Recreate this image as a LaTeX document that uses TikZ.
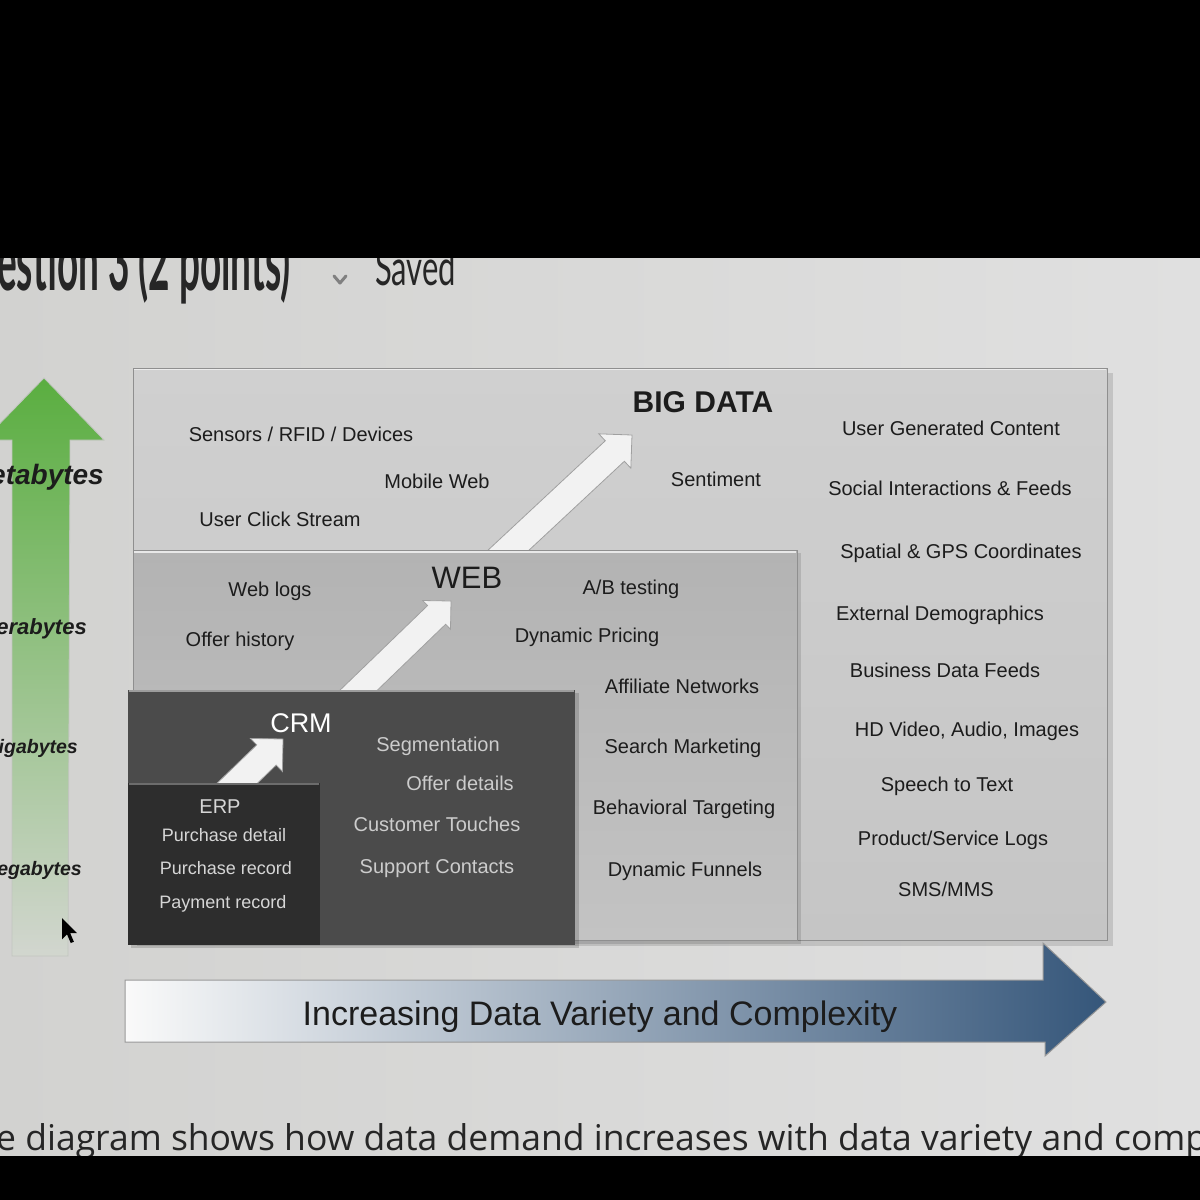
\documentclass[tikz,border=0pt]{standalone}
\usepackage{fontspec}
\setmainfont{Liberation Sans}
\newfontfamily\latofont{Lato}
\newfontfamily\opensansfont{Open Sans}
\definecolor{screenL}{HTML}{D2D2D0}
\definecolor{screenR}{HTML}{E0E0E0}
\definecolor{bigtop}{HTML}{D0D0D0}
\definecolor{bigbot}{HTML}{C5C5C5}
\definecolor{webtop}{HTML}{B3B3B3}
\definecolor{webbot}{HTML}{C3C3C3}
\definecolor{crmfill}{HTML}{4B4B4B}
\definecolor{erpfill}{HTML}{2D2D2D}
\definecolor{edgegray}{HTML}{8F8F8F}
\definecolor{darktext}{HTML}{1C1C1C}
\definecolor{crmtext}{HTML}{CCCCCC}
\definecolor{erptext}{HTML}{D6D6D6}
\definecolor{greenA}{HTML}{5AAE40}
\definecolor{greenB}{HTML}{86C06E}
\definecolor{greenC}{HTML}{D2D6CF}
\definecolor{steel}{HTML}{35567A}
\definecolor{steelmid}{HTML}{C3CCD4}
\definecolor{arrowedge}{HTML}{A0A0A0}
\definecolor{arrowfill}{HTML}{F2F2F2}
\definecolor{screentext}{HTML}{262626}
\begin{document}
\begin{tikzpicture}[x=1pt,y=-1pt,
  lbl/.style={font=\fontsize{20}{22}\selectfont, text=darktext, inner sep=0pt, text height=14.3pt, text depth=0pt},
  crmlbl/.style={lbl, text=crmtext},
  erplbl/.style={lbl, text=erptext, font=\fontsize{18}{20}\selectfont, text height=12.9pt},
  sizelbl/.style={font=\bfseries\itshape\fontsize{20}{22}\selectfont, text=darktext, inner sep=0pt, anchor=east, text height=14pt, text depth=0pt},
  arrowbody/.style={draw=arrowedge, line width=0.8pt, fill=arrowfill, line join=miter},
  pics/blockarr/.style args={#1/#2/#3/#4}{code={
    \path[arrowbody] (0,0) -- (-#4,#2/2) -- (-#4,#3/2) -- (-#1,#3/2) -- (-#1,-#3/2) -- (-#4,-#3/2) -- (-#4,-#2/2) -- cycle;}}
]
\useasboundingbox (0,0) rectangle (1200,1200);
\clip (0,0) rectangle (1200,1200);

% screen background
\shade[left color=screenL, right color=screenR] (0,250) rectangle (1200,1160);

% top partially hidden header
\node[font=\latofont\bfseries\fontsize{37}{40}\selectfont, text=screentext, anchor=base west, inner sep=0pt, yscale=2.2, transform shape] (qtitle) at (-3,290) {estion 3 (2 points)};
\draw[gray, line width=3pt, line cap=round, line join=round] (334,276) -- (340,283) -- (346,276);
\node[font=\latofont\fontsize{31}{34}\selectfont, text=screentext, anchor=base west, inner sep=0pt, yscale=1.6, transform shape] (saved) at (375,285) {Saved};

% bottom partially hidden sentence
\node[font=\opensansfont\fontsize{35.5}{38}\selectfont, text=screentext, anchor=base west, inner sep=0pt] (caption) at (-4,1150) {e diagram shows how data demand increases with data variety and comp};

% black bands
\fill[black] (0,0) rectangle (1200,258);
\fill[black] (0,1156) rectangle (1200,1200);

% green vertical arrow
\shade[top color=greenA, middle color=greenB, bottom color=greenC, draw=greenC!80!gray, line width=0.8pt]
  (44,378) -- (104,440) -- (70,440) -- (68,956) -- (12,956) -- (12,440) -- (-16,440) -- cycle;
\node[sizelbl, font=\bfseries\itshape\fontsize{28}{30}\selectfont, text height=20pt] (peta) at (104,474) {etabytes};
\node[sizelbl, font=\bfseries\itshape\fontsize{22}{24}\selectfont, text height=15.8pt] (tera) at (87,627) {erabytes};
\node[sizelbl, font=\bfseries\itshape\fontsize{19.5}{22}\selectfont] (giga) at (78,746) {igabytes};
\node[sizelbl, font=\bfseries\itshape\fontsize{19.5}{22}\selectfont] (mega) at (82,868) {egabytes};

% mouse cursor
\fill[black, shift={(62,918)}, scale=1.25] (0,0) -- (0,17) -- (4,13) -- (7,20) -- (9.5,19) -- (6.5,12) -- (12,12) -- cycle;

% BIG DATA panel
\fill[black, opacity=0.12] (137,373) rectangle (1113,946);
\shade[top color=bigtop, bottom color=bigbot, draw=edgegray, line width=1pt] (133,368) rectangle (1107,940);
\draw[white, opacity=0.6, line width=1.5pt] (134,369.5) -- (1106,369.5);

% big arrow into BIG DATA
\pic[rotate=43] (bigarrow) at (632,435) {blockarr=190/47/28/23.5};

% WEB panel
\fill[black, opacity=0.12] (136,553) rectangle (801,944);
\shade[top color=webtop, bottom color=webbot, draw=edgegray, line width=1pt] (133,550) rectangle (797,940);
\draw[white, opacity=0.7, line width=2pt] (134,551.5) -- (796,551.5);

% web arrow
\pic[rotate=44] (webarrow) at (451,601) {blockarr=150/40/26/20};

% CRM panel
\fill[black, opacity=0.15] (131,693) rectangle (579,948);
\fill[crmfill] (128,690) rectangle (575,945);
\draw[white!45!crmfill, line width=2pt] (129,691) -- (574,691);

% crm arrow
\pic[rotate=44] (crmarrow) at (283,739) {blockarr=85/46/28/23};

% ERP panel
\fill[erpfill] (128,783) rectangle (320,945);
\draw[white!30!erpfill, line width=2pt] (129,784) -- (319,784);

% BIG DATA texts
\node[inner sep=0pt, font=\bfseries\fontsize{30}{32}\selectfont, text=darktext, text height=21.5pt, text depth=0pt] (bigdata) at (703,402) {BIG DATA};
\node[lbl] (sensors) at (301,434) {Sensors / RFID / Devices};
\node[lbl] (mobileweb) at (437,481) {Mobile Web};
\node[lbl] (clickstream) at (280,519) {User Click Stream};
\node[lbl] (sentiment) at (716,479) {Sentiment};
\node[lbl] (ugc) at (951,428) {User Generated Content};
\node[lbl] (social) at (950,488) {Social Interactions \& Feeds};
\node[lbl] (spatial) at (961,551) {Spatial \& GPS Coordinates};
\node[lbl] (extdemo) at (940,613) {External Demographics};
\node[lbl] (bizfeeds) at (945,670) {Business Data Feeds};
\node[lbl] (hdvideo) at (967,729) {HD Video, Audio, Images};
\node[lbl] (speech) at (947,784) {Speech to Text};
\node[lbl] (prodlogs) at (953,838) {Product/Service Logs};
\node[lbl] (smsmms) at (946,889) {SMS/MMS};

% WEB texts
\node[inner sep=0pt, font=\fontsize{31}{33}\selectfont, text=darktext, text height=22.2pt, text depth=0pt] (web) at (467,577) {WEB};
\node[lbl] (weblogs) at (270,589) {Web logs};
\node[lbl] (offerhist) at (240,639) {Offer history};
\node[lbl] (abtest) at (631,587) {A/B testing};
\node[lbl] (dynpricing) at (587,635) {Dynamic Pricing};
\node[lbl] (affiliate) at (682,686) {Affiliate Networks};
\node[lbl] (searchmkt) at (683,746) {Search Marketing};
\node[lbl] (behavioral) at (684,807) {Behavioral Targeting};
\node[lbl] (funnels) at (685,869) {Dynamic Funnels};

% CRM texts
\node[inner sep=0pt, font=\fontsize{27}{29}\selectfont, text=white, text height=19.3pt, text depth=0pt] (crm) at (301,723) {CRM};
\node[crmlbl] (segmentation) at (438,744) {Segmentation};
\node[crmlbl] (offerdetails) at (460,783) {Offer details};
\node[crmlbl] (custtouches) at (437,824) {Customer Touches};
\node[crmlbl] (support) at (437,866) {Support Contacts};

% ERP texts
\node[lbl, text=erptext] (erp) at (220,806) {ERP};
\node[erplbl] (purchdetail) at (224,835) {Purchase detail};
\node[erplbl] (purchrecord) at (226,868) {Purchase record};
\node[erplbl] (payrecord) at (223,902) {Payment record};

% bottom horizontal arrow
\shade[left color=white!96!gray, middle color=steelmid, right color=steel, draw=gray!80, line width=1pt]
  (125,980) -- (1043,980) -- (1043,943) -- (1106,1002) -- (1045,1056) -- (1045,1042) -- (125,1042) -- cycle;
\node[inner sep=0pt, font=\fontsize{34}{36}\selectfont, text=darktext, text height=24.3pt, text depth=0pt] (variety) at (600,1013) {Increasing Data Variety and Complexity};
\end{tikzpicture}
\end{document}
